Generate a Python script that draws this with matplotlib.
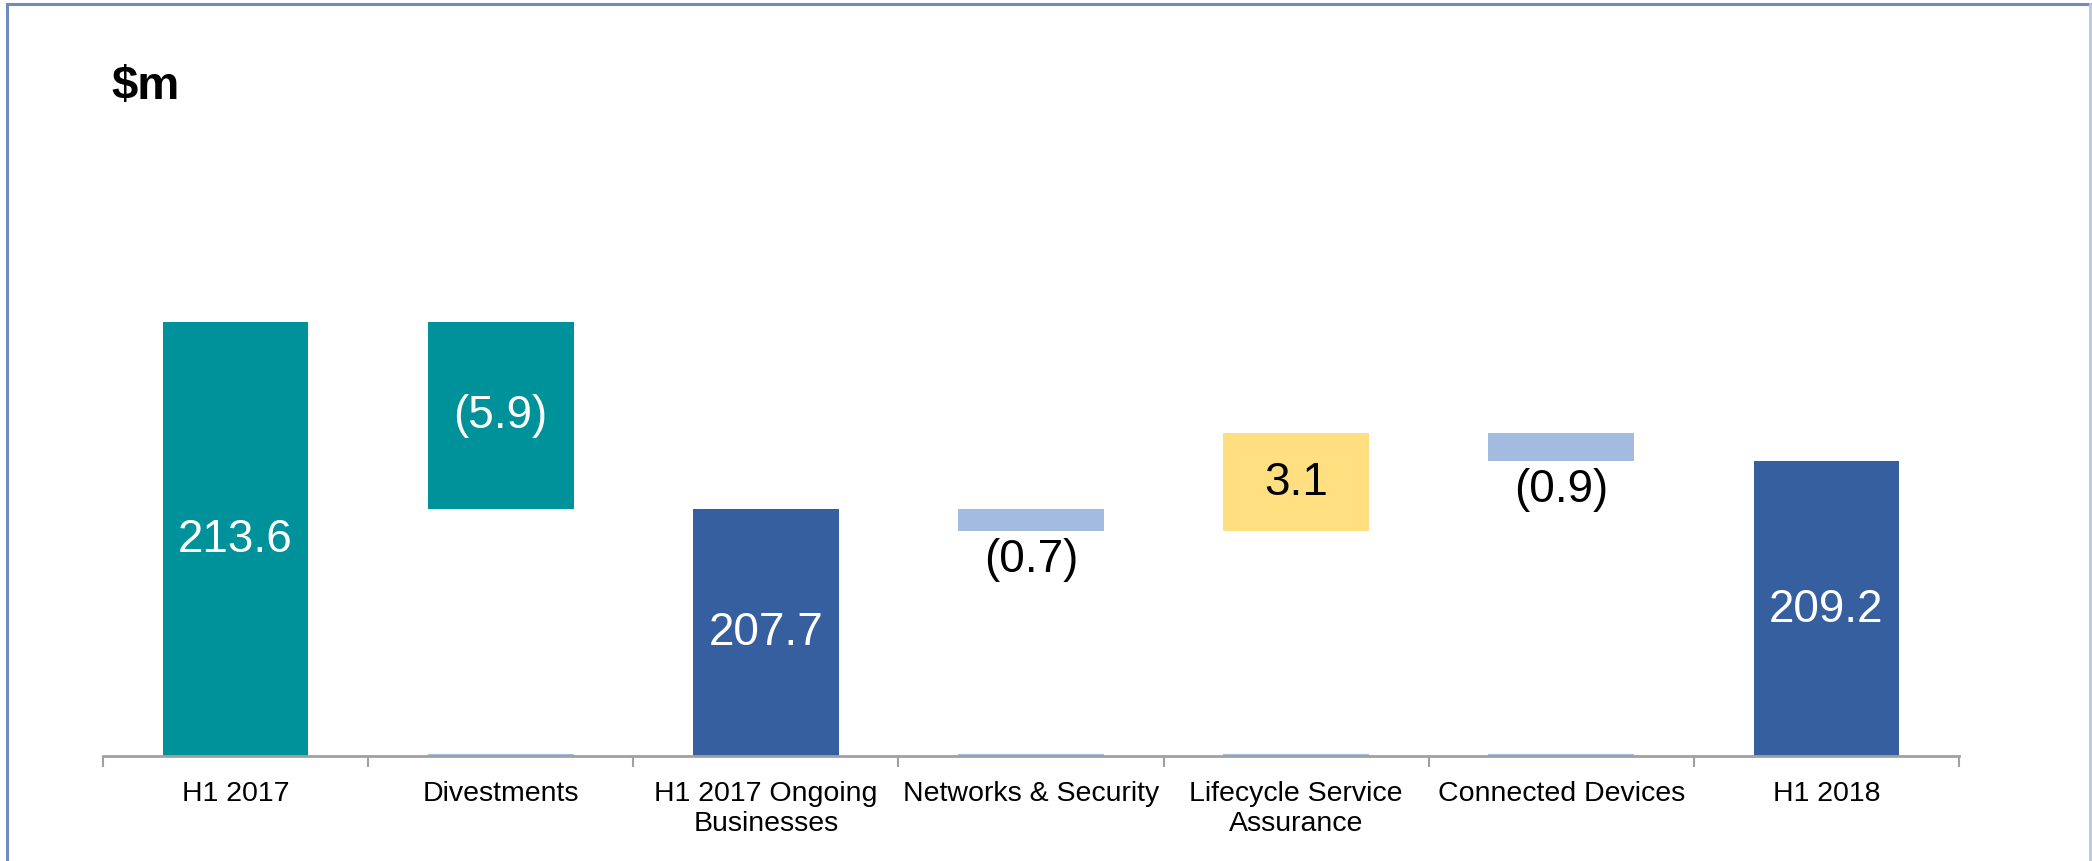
import matplotlib
matplotlib.use("Agg")
import matplotlib.pyplot as plt
from matplotlib.lines import Line2D

plt.rcParams['font.family'] = ['Liberation Sans', 'DejaVu Sans']

# данные водопада
categories = ['H1 2017', 'Divestments', 'H1 2017 Ongoing\nBusinesses', 'Networks & Security',
              'Lifecycle Service\nAssurance', 'Connected Devices', 'H1 2018']
values = [213.6, -5.9, 207.7, -0.7, 3.1, -0.9, 209.2]
is_total = [True, False, True, False, False, False, True]
bar_colors = ['#00929A', '#00929A', '#365F9F', '#A4BBE0', '#FFDF80', '#A4BBE0', '#365F9F']
label_colors = ['white', 'white', 'white', 'black', 'black', 'black', 'white']

floor = 199.88
top = 222.0
px_per_unit = 31.64

fig = plt.figure(figsize=(20.92, 8.62), dpi=100)
ax_h = (top - floor) * px_per_unit / 862
ax = fig.add_axes([103 / 2092, 105 / 862, 1856 / 2092, ax_h])

running = 0
x = list(range(len(categories)))
w = 0.55
for i, v in enumerate(values):
    if is_total[i]:
        bottom = floor
        height = v - floor
        running = v
    else:
        bottom = running + v if v < 0 else running
        height = abs(v)
        running = running + v
        # тонкая линия у основания под плавающими столбцами
        ax.hlines(floor + 0.04, i - w / 2, i + w / 2, color='#A4BBE0', lw=1.5, zorder=1)
    ax.bar(i, height, bottom=bottom, width=w, color=bar_colors[i], zorder=2)

    txt = f'{v:.1f}' if v >= 0 else f'({abs(v):.1f})'
    if height > 2:
        ax.text(i, bottom + height / 2, txt, ha='center', va='center',
                fontsize=33, color=label_colors[i], zorder=3)
    else:
        ax.text(i, bottom - 0.2, txt, ha='center', va='top',
                fontsize=33, color=label_colors[i], zorder=3)

ax.set_xlim(-0.5, len(categories) - 0.5)
ax.set_ylim(floor, top)

for s in ['top', 'right', 'left']:
    ax.spines[s].set_visible(False)
ax.spines['bottom'].set_color('#A0A0A0')
ax.spines['bottom'].set_linewidth(2)
ax.set_yticks([])

ax.set_xticks([i - 0.5 for i in range(len(categories) + 1)])
ax.set_xticklabels([])
ax.tick_params(axis='x', which='major', length=8, width=1.5, color='#A0A0A0', direction='out')
ax.set_xticks(x, minor=True)
ax.set_xticklabels(categories, minor=True, fontsize=20.5, linespacing=1.2)
ax.tick_params(axis='x', which='minor', length=0, pad=17)

fig.text(111 / 2092, 1 - 99 / 862, '$m', fontsize=34, fontweight='bold', ha='left', va='baseline')

# рамка слайда
fig.add_artist(Line2D([7 / 2092, 1], [1 - 5 / 862, 1 - 5 / 862], color='#6F8CBC', lw=2.2))
fig.add_artist(Line2D([7 / 2092, 7 / 2092], [0, 1 - 5 / 862], color='#6F8CBC', lw=2.2))
fig.add_artist(Line2D([2090 / 2092, 2090 / 2092], [0, 1 - 5 / 862], color='#B8C6DE', lw=2))

fig.savefig('out.png', dpi=100)
